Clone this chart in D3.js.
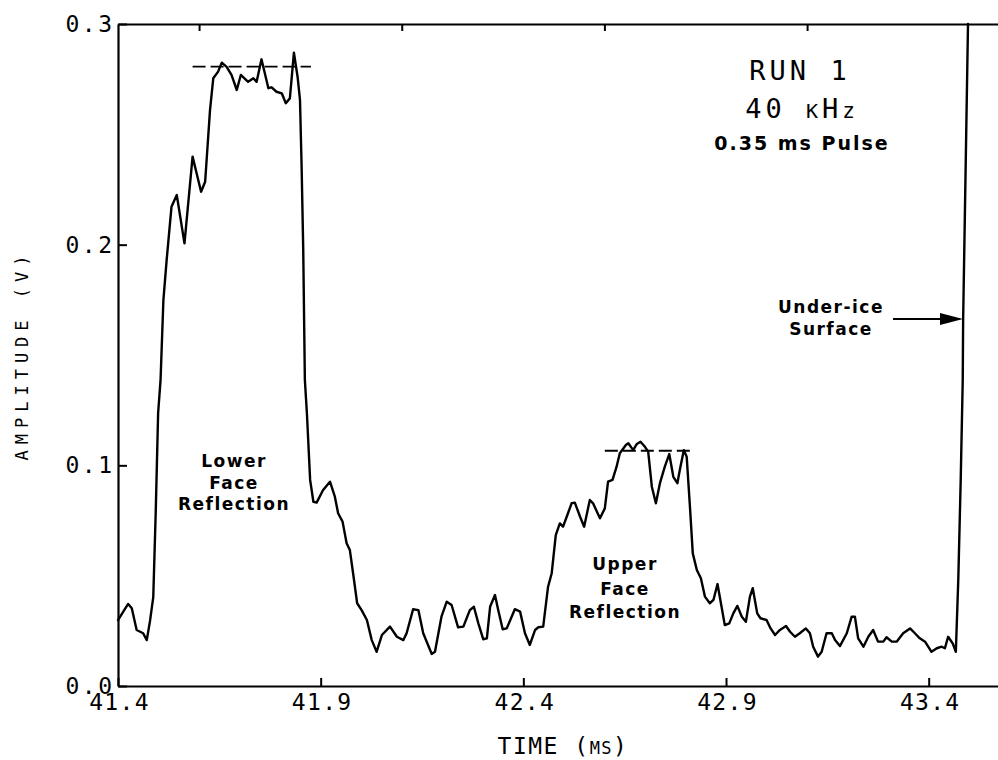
<!DOCTYPE html>
<html>
<head>
<meta charset="utf-8">
<script src="https://cdn.jsdelivr.net/npm/d3@7"></script>
<style>
  html, body { margin: 0; padding: 0; background: #fff; }
  svg { display: block; }
  .mono { font-family: "DejaVu Sans Mono", monospace; fill: #000; }
  .bold { font-family: "DejaVu Sans", sans-serif; font-weight: bold; fill: #000; }
</style>
</head>
<body>
<svg id="chart" width="998" height="760"></svg>
<script>
// ---- data ----
const time = [
  41.400,41.425,41.434,41.446,41.462,41.471,41.479,41.487,41.493,41.499,
  41.505,41.512,41.520,41.532,41.545,41.564,41.584,41.605,41.615,41.627,
  41.635,41.647,41.656,41.668,41.680,41.693,41.703,41.721,41.734,41.742,
  41.754,41.771,41.779,41.791,41.804,41.814,41.824,41.834,41.843,41.849,
  41.853,41.857,41.861,41.866,41.874,41.882,41.890,41.906,41.923,41.935,
  41.943,41.954,41.964,41.972,41.980,41.990,42.001,42.014,42.026,42.038,
  42.051,42.071,42.088,42.104,42.112,42.128,42.141,42.153,42.174,42.182,
  42.198,42.211,42.223,42.239,42.252,42.268,42.278,42.289,42.301,42.310,
  42.318,42.330,42.338,42.349,42.359,42.379,42.392,42.404,42.416,42.429,
  42.437,42.449,42.461,42.470,42.480,42.490,42.498,42.507,42.519,42.527,
  42.540,42.550,42.564,42.572,42.589,42.601,42.609,42.620,42.630,42.638,
  42.653,42.659,42.671,42.680,42.689,42.700,42.708,42.717,42.727,42.737,
  42.749,42.760,42.770,42.780,42.786,42.796,42.803,42.811,42.818,42.828,
  42.838,42.848,42.860,42.869,42.879,42.889,42.897,42.908,42.918,42.928,
  42.939,42.949,42.959,42.966,42.977,42.985,43.000,43.010,43.021,43.033,
  43.048,43.058,43.070,43.082,43.097,43.107,43.115,43.127,43.136,43.148,
  43.161,43.169,43.181,43.198,43.210,43.218,43.226,43.239,43.251,43.263,
  43.275,43.288,43.296,43.309,43.321,43.337,43.354,43.366,43.378,43.391,
  43.407,43.420,43.432,43.440,43.448,43.459,43.467,43.473,43.479,43.484,
  43.485,43.497
];
const amplitude = [
  0.0299,0.0372,0.0352,0.0254,0.0239,0.0208,0.0295,0.0403,0.0784,0.1237,
  0.1387,0.1749,0.1930,0.2172,0.2225,0.2006,0.2399,0.2240,0.2285,0.2610,
  0.2754,0.2784,0.2825,0.2806,0.2769,0.2701,0.2769,0.2738,0.2754,0.2738,
  0.2840,0.2709,0.2713,0.2693,0.2686,0.2641,0.2663,0.2870,0.2761,0.2656,
  0.2353,0.1976,0.1387,0.1237,0.0934,0.0835,0.0831,0.0888,0.0926,0.0858,
  0.0783,0.0745,0.0647,0.0616,0.0511,0.0375,0.0344,0.0299,0.0208,0.0155,
  0.0231,0.0269,0.0223,0.0208,0.0239,0.0348,0.0344,0.0239,0.0145,0.0155,
  0.0314,0.0382,0.0367,0.0266,0.0269,0.0344,0.0359,0.0284,0.0212,0.0216,
  0.0359,0.0412,0.0344,0.0257,0.0261,0.0348,0.0337,0.0239,0.0186,0.0254,
  0.0266,0.0269,0.0450,0.0511,0.0684,0.0737,0.0722,0.0767,0.0828,0.0831,
  0.0767,0.0722,0.0843,0.0828,0.0760,0.0805,0.0926,0.0934,0.0994,0.1055,
  0.1092,0.1100,0.1069,0.1097,0.1107,0.1084,0.1062,0.0903,0.0828,0.0919,
  0.0994,0.1051,0.0948,0.0919,0.0979,0.1069,0.1039,0.0813,0.0601,0.0526,
  0.0488,0.0405,0.0375,0.0390,0.0462,0.0359,0.0276,0.0284,0.0329,0.0363,
  0.0314,0.0291,0.0405,0.0443,0.0329,0.0307,0.0299,0.0261,0.0231,0.0254,
  0.0272,0.0246,0.0223,0.0239,0.0261,0.0239,0.0178,0.0133,0.0155,0.0239,
  0.0239,0.0208,0.0181,0.0239,0.0314,0.0314,0.0216,0.0178,0.0223,0.0254,
  0.0201,0.0201,0.0221,0.0201,0.0201,0.0239,0.0261,0.0239,0.0216,0.0201,
  0.0155,0.0171,0.0178,0.0171,0.0223,0.0194,0.0155,0.0480,0.0934,0.1387,
  0.1659,0.3000
];
const xTickValues = [41.4, 41.9, 42.4, 42.9, 43.4];
const xTopTickValues = [41.6, 42.1, 42.6, 43.1];
const yTickValues = [0.0, 0.1, 0.2, 0.3];
const peakStart = [41.584, 42.601];
const peakEnd = [41.876, 42.815];
const peakLevel = [0.2807, 0.1066];
const xDomain = [41.4, 43.571];
const yDomain = [0, 0.3];

// ---- layout ----
const svg = d3.select("#chart");
const plotL = 118, plotR = 998, plotT = 24, plotB = 686;
const x = d3.scaleLinear().domain(xDomain).range([plotL, plotR]);
const y = d3.scaleLinear().domain(yDomain).range([plotB, plotT]);

const fmt = d3.format(".1f");

// bottom axis
const gx = svg.append("g").attr("transform", `translate(0,${plotB})`)
  .call(d3.axisBottom(x).tickValues(xTickValues).tickFormat(fmt)
    .tickSizeInner(-8).tickSizeOuter(0).tickPadding(8));
// top axis
const gt = svg.append("g").attr("transform", `translate(0,${plotT})`)
  .call(d3.axisTop(x).tickValues(xTopTickValues).tickFormat("")
    .tickSizeInner(-7).tickSizeOuter(0));
// left axis
const gy = svg.append("g").attr("transform", `translate(${plotL},0)`)
  .call(d3.axisLeft(y).tickValues(yTickValues).tickFormat(fmt)
    .tickSizeInner(-9).tickSizeOuter(0).tickPadding(6));

[gx, gt, gy].forEach(g => {
  g.select(".domain").attr("stroke", "#000").attr("stroke-width", 2.2);
  g.selectAll(".tick line").attr("stroke", "#000").attr("stroke-width", 2);
  g.selectAll(".tick text")
    .attr("class", "mono")
    .style("font-family", "'DejaVu Sans Mono', monospace")
    .style("font-size", "23px")
    .style("letter-spacing", "1.3px")
    .attr("fill", "#000");
});
gy.selectAll(".tick text").style("letter-spacing", "2.5px").attr("dx", "2.5");
gx.selectAll(".tick text").attr("dx", "1");

// curve
const pts = time.map((t, i) => [t, amplitude[i]]);
const line = d3.line().x(d => x(d[0])).y(d => y(d[1]));
svg.append("path").datum(pts)
  .attr("d", line)
  .attr("fill", "none")
  .attr("stroke", "#000")
  .attr("stroke-width", 2.4)
  .attr("stroke-linejoin", "round")
  .attr("stroke-linecap", "round");

// dashed peak levels
svg.selectAll("line.peak").data(peakLevel).enter().append("line")
  .attr("class", "peak")
  .attr("x1", (d, i) => x(peakStart[i]))
  .attr("x2", (d, i) => x(peakEnd[i]))
  .attr("y1", d => y(d)).attr("y2", d => y(d))
  .attr("stroke", "#000").attr("stroke-width", 1.8)
  .attr("stroke-dasharray", "13,5");

// axis titles
svg.append("text").attr("class", "mono")
  .attr("transform", "translate(28,355) rotate(-90)")
  .attr("text-anchor", "middle")
  .style("font-size", "17px").style("letter-spacing", "6px")
  .text("AMPLITUDE (V)");

const tt = svg.append("text").attr("class", "mono")
  .attr("x", 563).attr("y", 754).attr("text-anchor", "middle")
  .style("font-size", "23px").style("letter-spacing", "1.5px");
tt.append("tspan").text("TIME (");
tt.append("tspan").style("font-size", "17px").text("MS");
tt.append("tspan").text(")");

// run info
svg.append("text").attr("class", "mono")
  .attr("x", 800).attr("y", 80).attr("text-anchor", "middle")
  .style("font-size", "27px").style("letter-spacing", "4px")
  .text("RUN 1");
const khz = svg.append("text").attr("class", "mono")
  .attr("x", 802).attr("y", 118).attr("text-anchor", "middle")
  .style("font-size", "27px").style("letter-spacing", "4px");
khz.append("tspan").text("40 ");
khz.append("tspan").style("font-size", "20px").text("K");
khz.append("tspan").text("H");
khz.append("tspan").style("font-size", "21px").text("z");
svg.append("text").attr("class", "bold")
  .attr("x", 802).attr("y", 150).attr("text-anchor", "middle")
  .style("font-size", "19px").style("letter-spacing", "2px")
  .text("0.35 ms Pulse");

// labels
function block(lines, cx, ys) {
  lines.forEach((s, i) => {
    svg.append("text").attr("class", "bold")
      .attr("x", cx).attr("y", ys[i]).attr("text-anchor", "middle")
      .style("font-size", "17px").style("letter-spacing", "1.5px")
      .text(s);
  });
}
block(["Lower", "Face", "Reflection"], 234, [467, 489, 510]);
block(["Upper", "Face", "Reflection"], 625, [570, 595, 618]);
block(["Under-ice", "Surface"], 831, [313, 335]);

// arrow to the under-ice surface
svg.append("line")
  .attr("x1", 893).attr("x2", 945).attr("y1", 319).attr("y2", 319)
  .attr("stroke", "#000").attr("stroke-width", 2);
svg.append("path")
  .attr("d", "M940,313 L963,319 L940,325 Z")
  .attr("fill", "#000");
</script>
</body>
</html>
